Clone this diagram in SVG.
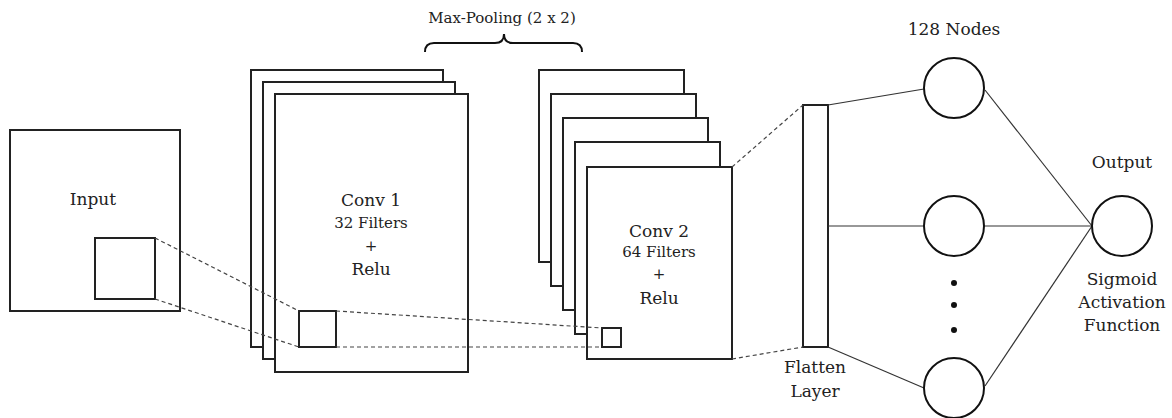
<svg xmlns="http://www.w3.org/2000/svg" width="1172" height="418" viewBox="0 0 1172 418">
<style>
.box{fill:#fff;stroke:#222;stroke-width:2}
.dash{fill:none;stroke:#444;stroke-width:1.2;stroke-dasharray:4 3}
.line{fill:none;stroke:#333;stroke-width:1.2}
.node{fill:#fff;stroke:#111;stroke-width:2}
text{font-family:"DejaVu Serif","Liberation Serif",serif;fill:#222;text-anchor:middle}
.big{font-size:17px}
.small{font-size:15px}
</style>
<rect width="1172" height="418" fill="#fff"/>
<g id="input">
<rect class="box" x="10" y="130" width="170" height="181"/>
<rect class="box" x="95" y="238" width="60" height="61"/>
<text class="big" x="93" y="205">Input</text>
</g>
<g id="conv1">
<rect class="box" x="251" y="70" width="192" height="277"/>
<rect class="box" x="263" y="82" width="192" height="277"/>
<rect class="box" x="275" y="94" width="193" height="278"/>
<rect class="box" x="299" y="311" width="37" height="36"/>
<text class="big" x="371" y="206">Conv 1</text>
<text class="small" x="371" y="228">32 Filters</text>
<text class="small" x="371" y="251">+</text>
<text class="big" x="371" y="275">Relu</text>
</g>
<g id="maxpool">
<path d="M425,52 Q425,43 434,43 L495,43 Q504,43 504,34 Q504,43 513,43 L573,43 Q582,43 582,52" fill="none" stroke="#111" stroke-width="2"/>
<text class="small" x="502" y="23">Max-Pooling (2 x 2)</text>
</g>
<g id="conv2">
<rect class="box" x="539" y="70" width="145" height="192"/>
<rect class="box" x="551" y="94" width="145" height="192"/>
<rect class="box" x="563" y="118" width="145" height="192"/>
<rect class="box" x="575" y="142" width="145" height="192"/>
<rect class="box" x="587" y="167" width="145" height="192"/>
<rect class="box" x="602" y="328" width="19" height="19"/>
<text class="big" x="659" y="237">Conv 2</text>
<text class="small" x="659" y="257">64 Filters</text>
<text class="small" x="659" y="279">+</text>
<text class="big" x="659" y="304">Relu</text>
</g>
<g id="flatten">
<rect class="box" x="803" y="105" width="25" height="242"/>
<text class="big" x="815" y="373">Flatten</text>
<text class="big" x="815" y="397">Layer</text>
</g>
<g id="connectors">
<line class="dash" x1="155" y1="238" x2="299" y2="311"/>
<line class="dash" x1="155" y1="299" x2="299" y2="347"/>
<line class="dash" x1="336" y1="311" x2="602" y2="328"/>
<line class="dash" x1="336" y1="347" x2="602" y2="347"/>
<line class="dash" x1="732" y1="167" x2="803" y2="105"/>
<line class="dash" x1="732" y1="359" x2="803" y2="347"/>
<line class="line" x1="828" y1="105" x2="924" y2="89"/>
<line class="line" x1="828" y1="226" x2="924" y2="226"/>
<line class="line" x1="828" y1="347" x2="924" y2="388"/>
<line class="line" x1="985" y1="90" x2="1092" y2="226"/>
<line class="line" x1="984" y1="226" x2="1092" y2="226"/>
<line class="line" x1="985" y1="386" x2="1092" y2="226"/>
</g>
<g id="hidden">
<text class="big" x="954" y="35">128 Nodes</text>
<circle class="node" cx="954" cy="88" r="30"/>
<circle class="node" cx="954" cy="226" r="30"/>
<circle fill="#111" cx="954" cy="283" r="3"/>
<circle fill="#111" cx="954" cy="305" r="3"/>
<circle fill="#111" cx="954" cy="330" r="3"/>
<circle class="node" cx="954" cy="388" r="30"/>
</g>
<g id="output">
<text class="big" x="1122" y="168">Output</text>
<circle class="node" cx="1122" cy="226" r="30"/>
<text class="big" x="1122" y="285">Sigmoid</text>
<text class="big" x="1122" y="308">Activation</text>
<text class="big" x="1122" y="331">Function</text>
</g>
</svg>
